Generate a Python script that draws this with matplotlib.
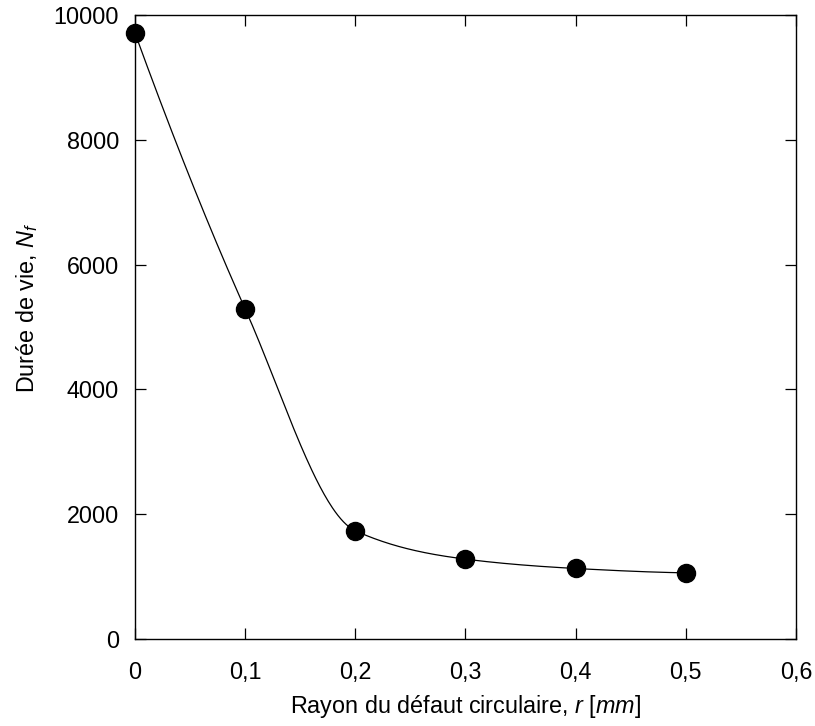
import matplotlib
matplotlib.use("Agg")
import matplotlib.pyplot as plt
import numpy as np

# data
rayon = [0.0, 0.1, 0.2, 0.3, 0.4, 0.5]
duree_vie = [9710, 5290, 1735, 1280, 1130, 1060]
xticks = [0, 0.1, 0.2, 0.3, 0.4, 0.5, 0.6]
xtick_labels = ["0", "0,1", "0,2", "0,3", "0,4", "0,5", "0,6"]
yticks = [0, 2000, 4000, 6000, 8000, 10000]


def pchip_line(x, y, n=400):
    """Shape preserving cubic through the points, for the smooth line"""
    x = np.asarray(x, float)
    y = np.asarray(y, float)
    h = np.diff(x)
    d = np.diff(y) / h
    m = np.zeros_like(y)
    for i in range(1, len(x) - 1):
        if d[i - 1] * d[i] > 0:
            w1 = 2 * h[i] + h[i - 1]
            w2 = h[i] + 2 * h[i - 1]
            m[i] = (w1 + w2) / (w1 / d[i - 1] + w2 / d[i])
    m[0] = ((2 * h[0] + h[1]) * d[0] - h[0] * d[1]) / (h[0] + h[1])
    m[-1] = ((2 * h[-1] + h[-2]) * d[-1] - h[-1] * d[-2]) / (h[-1] + h[-2])
    xs = np.linspace(x[0], x[-1], n)
    idx = np.clip(np.searchsorted(x, xs) - 1, 0, len(x) - 2)
    hh = h[idx]
    t = (xs - x[idx]) / hh
    h00 = 2 * t**3 - 3 * t**2 + 1
    h10 = t**3 - 2 * t**2 + t
    h01 = -2 * t**3 + 3 * t**2
    h11 = t**3 - t**2
    ys = h00 * y[idx] + h10 * hh * m[idx] + h01 * y[idx + 1] + h11 * hh * m[idx + 1]
    return xs, ys


plt.rcParams['font.family'] = ['Liberation Sans', 'DejaVu Sans']
plt.rcParams['mathtext.fontset'] = 'custom'
plt.rcParams['mathtext.rm'] = 'Liberation Sans'
plt.rcParams['mathtext.it'] = 'Liberation Sans:italic'

fig = plt.figure(figsize=(8.15, 7.26), dpi=100)
ax = fig.add_axes([135 / 815, 1 - 639 / 726, 661 / 815, 624 / 726])

xs, ys = pchip_line(rayon, duree_vie)
ax.plot(xs, ys, color='black', linewidth=0.9, zorder=2)
ax.plot(rayon, duree_vie, 'o', color='black', markersize=13, zorder=3, clip_on=False)

ax.set_xlim(0, 0.6)
ax.set_ylim(0, 10000)
ax.set_xticks(xticks)
ax.set_xticklabels(xtick_labels)
ax.set_yticks(yticks)
ax.tick_params(direction='in', length=8, width=0.9, top=True, right=True,
               labelsize=16.8)
ax.tick_params(axis='x', pad=16)
ax.tick_params(axis='y', pad=11.5)
for s in ax.spines.values():
    s.set_linewidth(1.0)

ax.set_xlabel("Rayon du défaut circulaire, $r$ [$mm$]", fontsize=16.8, labelpad=6)
ax.set_ylabel("Durée de vie, $N_f$", fontsize=16.8, labelpad=10)
ax.yaxis.label.set_y(0.53)

fig.savefig("out.png", dpi=100)
